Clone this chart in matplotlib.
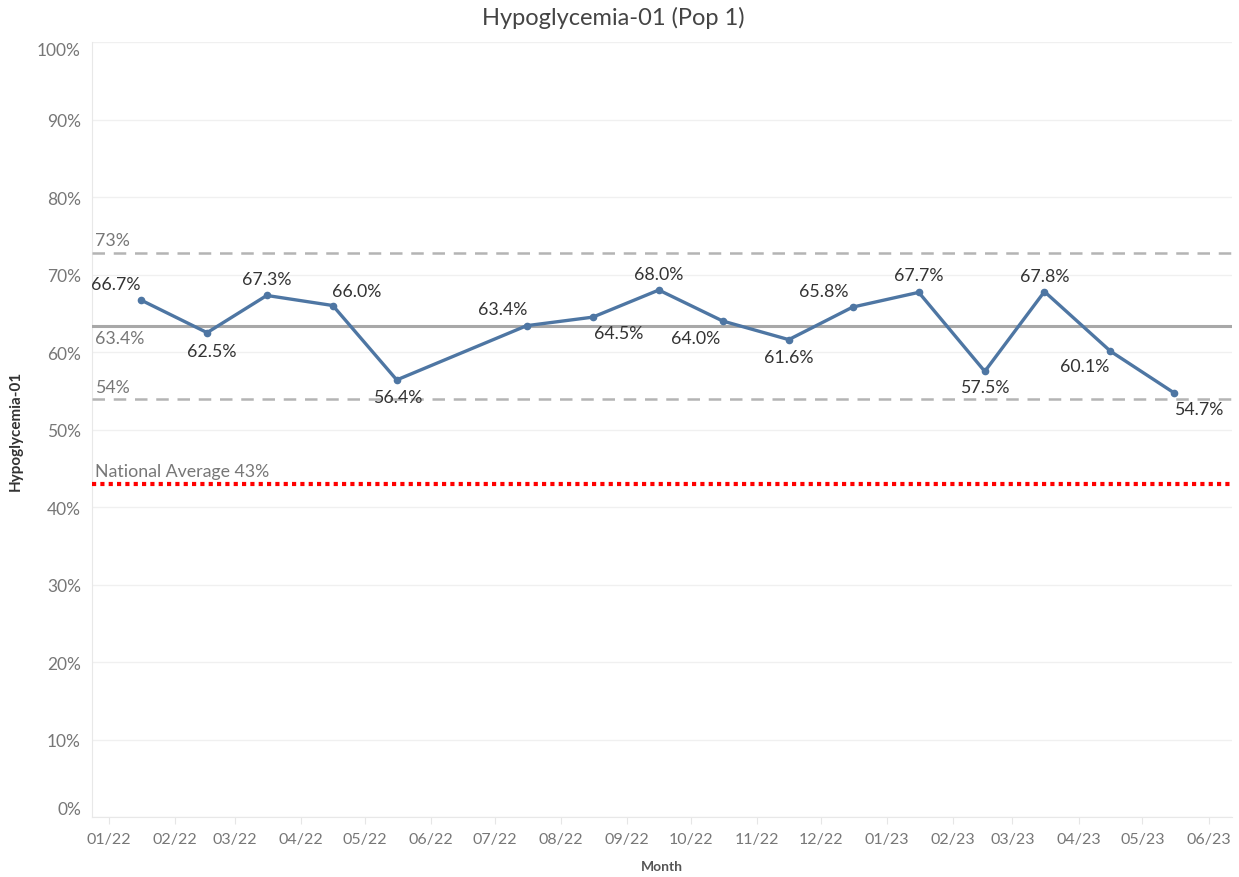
import matplotlib
matplotlib.use("Agg")
import matplotlib.pyplot as plt
import matplotlib.dates as mdates
import pandas as pd

# monthly rates (June 2022 has no value)
months = ["2022-01", "2022-02", "2022-03", "2022-04", "2022-05",
          "2022-07", "2022-08", "2022-09", "2022-10", "2022-11", "2022-12",
          "2023-01", "2023-02", "2023-03", "2023-04", "2023-05"]
rates = [66.7, 62.5, 67.3, 66.0, 56.4,
         63.4, 64.5, 68.0, 64.0, 61.6, 65.8,
         67.7, 57.5, 67.8, 60.1, 54.7]

mean_rate = 63.4
upper_limit = 72.8
lower_limit = 53.9
national_avg = 43

tick_months = pd.date_range("2022-01-01", "2023-06-01", freq="MS")

# where each data label sits relative to its point, in pixels (dx, dy)
label_offsets = [(-25, 16), (5, -18), (0, 16), (24, 15), (1, -17),
                 (-24, 17), (26, -16), (0, 16), (-27, -17), (0, -17), (-29, 16),
                 (0, 17), (0, -16), (0, 16), (-26, -15), (24, -16)]

plt.rcParams["font.family"] = ["Lato", "DejaVu Sans"]

fig = plt.figure(figsize=(12.39, 8.78), dpi=100)
ax = fig.add_axes([0.0743, 0.0683, 0.92, 0.8827])

# points sit in the middle of each month
x = [pd.Timestamp(m + "-16") for m in months]

ax.plot(x, rates, color="#4e76a3", linewidth=2.4, marker="o", markersize=4.5, zorder=5)

# reference lines
ax.axhline(upper_limit, color="#b4b4b4", linewidth=1.8, linestyle=(0, (5, 3.5)), zorder=3)
ax.axhline(lower_limit, color="#b4b4b4", linewidth=1.8, linestyle=(0, (5, 3.5)), zorder=3)
ax.axhline(mean_rate, color="#a8a8a8", linewidth=2.2, zorder=3)
ax.axhline(national_avg, color="#ff0000", linewidth=3, linestyle=(0, (1, 1)), zorder=3)

left = pd.Timestamp("2021-12-24")
right = pd.Timestamp("2023-06-12")
ax.set_xlim(left, right)
ax.set_ylim(0, 100)

ref_style = dict(fontsize=12.8, color="#777777", transform=ax.get_yaxis_transform())
ax.text(0.003, upper_limit + 0.6, f"{upper_limit:.0f}%", va="bottom", **ref_style)
ax.text(0.003, mean_rate - 0.6, f"{mean_rate:.1f}%", va="top", **ref_style)
ax.text(0.003, lower_limit + 0.6, f"{lower_limit:.0f}%", va="bottom", **ref_style)
ax.text(0.003, national_avg + 0.6, f"National Average {national_avg}%", va="bottom", **ref_style)

# data labels
for xi, yi, (dx, dy) in zip(x, rates, label_offsets):
    ax.annotate(f"{yi:.1f}%", (xi, yi), xytext=(dx * 0.72, dy * 0.72),
                textcoords="offset points", ha="center", va="center",
                fontsize=12.8, color="#333333", zorder=6)

# axes styling
ax.set_yticks(range(0, 101, 10))
ax.set_yticklabels([f"{v}%" for v in range(0, 101, 10)])
ax.set_xticks(tick_months)
ax.xaxis.set_major_formatter(mdates.DateFormatter("%m/%y"))
ax.tick_params(axis="y", length=0, labelsize=12.5, labelcolor="#777777", pad=8)
ax.tick_params(axis="x", length=5, color="#e6e6e6", labelsize=11.5, labelcolor="#777777", pad=6)
ax.grid(axis="y", color="#f0f0f0", linewidth=1)
ax.set_axisbelow(True)
for side in ["top", "right"]:
    ax.spines[side].set_visible(False)
for side in ["left", "bottom"]:
    ax.spines[side].set_color("#e8e8e8")

# keep the end labels inside the axis, like the original
ylabels = ax.get_yticklabels()
ylabels[0].set_va("bottom")
ylabels[-1].set_va("top")

ax.set_xlabel("Month", fontsize=10, fontweight="bold", color="#555555", labelpad=10)
ax.set_ylabel("Hypoglycemia-01", fontsize=11, fontweight="bold", color="#333333", labelpad=10)
fig.text(0.495, 0.979, "Hypoglycemia-01 (Pop 1)", ha="center", va="center",
         fontsize=17, color="#444444")

fig.savefig("out.png", dpi=100)
